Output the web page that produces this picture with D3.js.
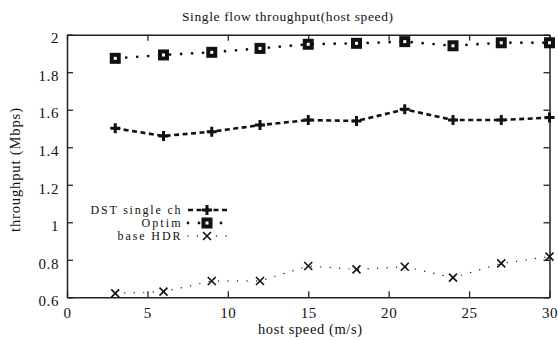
<!DOCTYPE html>
<html><head><meta charset="utf-8">
<script src="https://cdn.jsdelivr.net/npm/d3@7"></script>
<style>body{margin:0;background:#fff}svg{display:block}text{font-family:"Liberation Serif","Times New Roman",Times,serif;fill:#111}</style>
</head><body><svg id="c" width="558" height="340"></svg>
<script>
const speeds = [3,6,9,12,15,18,21,24,27,30];
const dstSingle = [1.501,1.460,1.483,1.518,1.545,1.540,1.602,1.545,1.545,1.558];
const optim = [1.874,1.892,1.906,1.927,1.949,1.954,1.963,1.941,1.957,1.957];
const baseHDR = [0.621,0.630,0.687,0.687,0.767,0.749,0.763,0.705,0.781,0.817];
const xTicks = [0,5,10,15,20,25,30];
const yTicks = [0.6,0.8,1,1.2,1.4,1.6,1.8,2];
const seriesNames = ["DST single ch","Optim","base HDR"];

const svg = d3.select("#c");
const L=67, R=549.5, T=34.7, B=297.3;
const x = d3.scaleLinear().domain([0,30]).range([L,R]);
const y = d3.scaleLinear().domain([0.6,2]).range([B,T]);
const fmt = d => d3.format("")(d);
const FF = '"Liberation Serif","Times New Roman",Times,serif';

const gB = svg.append("g").attr("transform",`translate(0,${B})`)
  .call(d3.axisBottom(x).tickValues(xTicks).tickSizeInner(-6).tickSizeOuter(0).tickPadding(10).tickFormat(fmt));
const gT = svg.append("g").attr("transform",`translate(0,${T})`)
  .call(d3.axisTop(x).tickValues(xTicks).tickSizeInner(-6).tickSizeOuter(0).tickFormat(""));
const gL = svg.append("g").attr("transform",`translate(${L},0)`)
  .call(d3.axisLeft(y).tickValues(yTicks).tickSizeInner(-6).tickSizeOuter(0).tickPadding(8).tickFormat(fmt));
const gR = svg.append("g").attr("transform",`translate(${R},0)`)
  .call(d3.axisRight(y).tickValues(yTicks).tickSizeInner(-6).tickSizeOuter(0).tickFormat(""));
[gB,gT,gL,gR].forEach(g=>{
  g.attr("font-family",FF);
  g.selectAll("path").attr("stroke","#222").attr("stroke-width",1.5);
  g.selectAll("line").attr("stroke","#222").attr("stroke-width",1.3);
  g.selectAll("text").attr("font-size",15).attr("font-family",FF).attr("fill","#111").attr("letter-spacing",0.6);
});
gL.selectAll("text").attr("dy","0.55em");

svg.append("text").attr("x",287.5).attr("y",21).attr("text-anchor","middle").attr("font-size",13.5)
  .attr("textLength",211).text("Single flow throughput(host speed)");
svg.append("text").attr("x",310).attr("y",334).attr("text-anchor","middle").attr("font-size",14.5)
  .attr("textLength",104).text("host speed (m/s)");
svg.append("text").attr("transform","translate(20,170) rotate(-90)").attr("text-anchor","middle").attr("font-size",14.5)
  .attr("textLength",124).text("throughput (Mbps)");

const line = d3.line().x(d=>x(d[0])).y(d=>y(d[1]));
const styles = [
  {data:dstSingle, w:2.6, dash:"5,3.5", cap:"butt"},
  {data:optim, w:2.8, dash:"0,11", cap:"round"},
  {data:baseHDR, w:1.4, dash:"0,9.5", cap:"round"}
];
styles.forEach(s=>{
  svg.append("path").datum(speeds.map((v,i)=>[v,s.data[i]])).attr("d",line)
    .attr("fill","none").attr("stroke","#111").attr("stroke-width",s.w)
    .attr("stroke-dasharray",s.dash).attr("stroke-linecap",s.cap);
});

function plus(g,cx,cy){g.append("path").attr("d",`M${cx-5},${cy}H${cx+5}M${cx},${cy-5}V${cy+5}`).attr("stroke","#111").attr("stroke-width",3);}
function square(g,cx,cy){g.append("rect").attr("x",cx-5.5).attr("y",cy-5.5).attr("width",11).attr("height",11).attr("fill","#111");
  g.append("rect").attr("x",cx-1.5).attr("y",cy-1.5).attr("width",3).attr("height",3).attr("fill","#fff");}
function cross(g,cx,cy){g.append("path").attr("d",`M${cx-4},${cy-4}L${cx+4},${cy+4}M${cx-4},${cy+4}L${cx+4},${cy-4}`).attr("stroke","#111").attr("stroke-width",1.6);}
const markers=[plus,square,cross];
const mg = svg.append("g");
styles.forEach((s,k)=>{ speeds.forEach((v,i)=>markers[k](mg,x(v),y(s.data[i]))); });

const ly=[210,223,236];
const lw=[90,39,63];
seriesNames.forEach((n,k)=>{
  svg.append("text").attr("x",180.5).attr("y",ly[k]+4).attr("text-anchor","end").attr("font-size",12)
    .attr("textLength",lw[k]).text(n);
  svg.append("path").attr("d",`M188,${ly[k]}H228`).attr("fill","none").attr("stroke","#111")
    .attr("stroke-width",styles[k].w).attr("stroke-dasharray",styles[k].dash).attr("stroke-linecap",styles[k].cap);
  markers[k](svg,207,ly[k]);
});
</script></body></html>
